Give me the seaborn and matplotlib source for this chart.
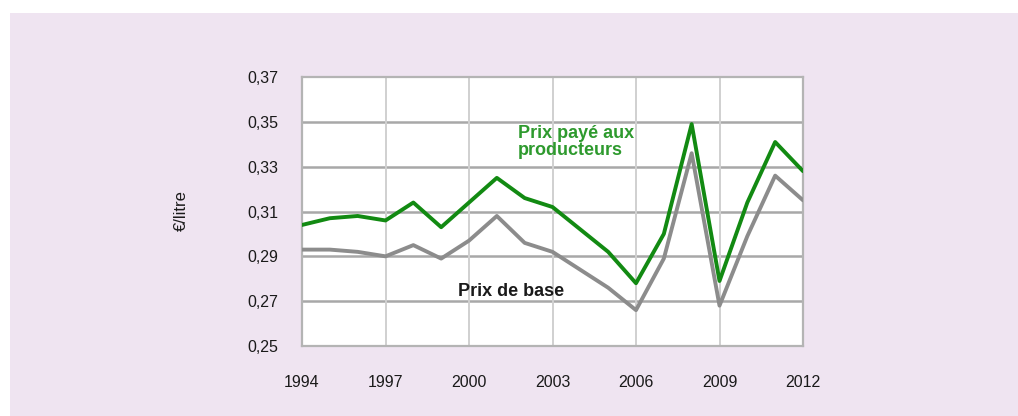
import matplotlib
matplotlib.use("Agg")
import matplotlib.pyplot as plt
from matplotlib.patches import Rectangle
import seaborn as sns
import pandas as pd

# Milk prices, euros per litre
years = list(range(1994, 2013))
prix_producteurs = [0.304, 0.307, 0.308, 0.306, 0.314, 0.303, 0.314, 0.325, 0.316,
                    0.312, 0.302, 0.292, 0.278, 0.300, 0.349, 0.279, 0.314, 0.341, 0.328]
prix_base = [0.293, 0.293, 0.292, 0.290, 0.295, 0.289, 0.297, 0.308, 0.296,
             0.292, 0.284, 0.276, 0.266, 0.289, 0.336, 0.268, 0.299, 0.326, 0.315]
y_ticks = [0.25, 0.27, 0.29, 0.31, 0.33, 0.35, 0.37]
x_ticks = [1994, 1997, 2000, 2003, 2006, 2009, 2012]

sns.set_theme(style="white")
plt.rcParams["font.family"] = ["Liberation Sans", "DejaVu Sans"]

df = pd.DataFrame({
    "annee": years * 2,
    "prix": prix_producteurs + prix_base,
    "serie": ["Prix payé aux producteurs"] * len(years) + ["Prix de base"] * len(years),
})

W, H = 1018, 416
fig = plt.figure(figsize=(W / 100, H / 100), dpi=100)
fig.patch.set_facecolor("white")
fig.add_artist(Rectangle((10 / W, 0), 1 - 10 / W, (H - 13) / H,
                         transform=fig.transFigure, facecolor="#efe4f1",
                         edgecolor="none", zorder=0))

ax = fig.add_axes([302 / W, 1 - 346 / H, (803 - 302) / W, (346 - 77) / H])
ax.set_facecolor("white")

sns.lineplot(data=df, x="annee", y="prix", hue="serie",
             palette={"Prix payé aux producteurs": "#128a12", "Prix de base": "#8c8c8c"},
             hue_order=["Prix de base", "Prix payé aux producteurs"],
             linewidth=2.8, legend=False, ax=ax, zorder=3)

ax.set_xlim(1994, 2012)
ax.set_ylim(0.25, 0.37)
ax.set_xticks(x_ticks)
ax.set_yticks(y_ticks)
ax.set_yticklabels([f"{v:.2f}".replace(".", ",") for v in y_ticks])
ax.set_xticklabels([str(v) for v in x_ticks])
ax.tick_params(axis="x", length=0, pad=21, labelsize=11.5, colors="#1a1a1a")
ax.tick_params(axis="y", length=0, pad=17, labelsize=11.5, colors="#1a1a1a")

for y in y_ticks[1:-1]:
    ax.axhline(y, color="#a8a8a8", linewidth=1.8, zorder=1)
for x in x_ticks[1:-1]:
    ax.axvline(x, color="#d0d0d0", linewidth=1.4, zorder=1)

for side in ["top", "bottom", "left", "right"]:
    ax.spines[side].set_color("#b4b4b4")
    ax.spines[side].set_linewidth(1.6)

ax.set_xlabel("")
ax.set_ylabel("€/litre", fontsize=12, color="#1a1a1a")
ax.yaxis.set_label_coords(-0.225, 0.505)

ax.text(2001.75, 0.341, "Prix payé aux\nproducteurs", color="#2e9a2e",
        fontsize=13, fontweight="bold", ha="left", va="center", linespacing=1.05)
ax.text(1999.6, 0.2741, "Prix de base", color="#1a1a1a",
        fontsize=13, fontweight="bold", ha="left", va="center")

fig.savefig("out.png", dpi=100, facecolor=fig.get_facecolor())
